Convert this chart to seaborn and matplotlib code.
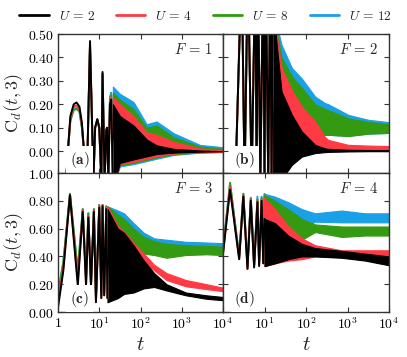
import numpy as np
import pandas as pd
import matplotlib
matplotlib.use("Agg")
import matplotlib.pyplot as plt
import seaborn as sns
from matplotlib.ticker import NullLocator

sns.set_theme(style="white")
plt.rcParams['font.family'] = ['DejaVu Serif']
plt.rcParams['mathtext.fontset'] = 'cm'

# ---------------- data ----------------
U_values = [2, 4, 8, 12]
U_labels = ['$U\\,=\\,2$', '$U\\,=\\,4$', '$U\\,=\\,8$', '$U\\,=\\,12$']
U_colors = {2: '#000000', 4: '#ff3a44', 8: '#339a12', 12: '#1aa0e6'}
panel_F = ['$F\\,=\\,1$', '$F\\,=\\,2$', '$F\\,=\\,3$', '$F\\,=\\,4$']
panel_tags = [r'$\mathbf{(a)}$', r'$\mathbf{(b)}$', r'$\mathbf{(c)}$', r'$\mathbf{(d)}$']

# early oscillations: log10(t) and values
a_early_logt = [0.20, 0.24, 0.30, 0.38, 0.45, 0.52, 0.58, 0.63, 0.70, 0.776, 0.86, 0.90, 0.953, 1.00, 1.05, 1.08, 1.13, 1.17, 1.19, 1.22, 1.26, 1.29, 1.33]
a_early = {
    2:  [-0.12, 0.0, 0.15, 0.20, 0.208, 0.19, 0.12, 0.0, -0.12, 0.47, -0.12, 0.10, 0.137, 0.10, -0.12, 0.338, -0.12, 0.09, 0.10, -0.12, 0.20, 0.22, -0.12],
    4:  [-0.12, 0.0, 0.14, 0.19, 0.195, 0.18, 0.11, 0.0, -0.12, 0.46, -0.12, 0.10, 0.135, 0.10, -0.12, 0.33, -0.12, 0.09, 0.10, -0.12, 0.21, 0.23, -0.12],
    8:  [-0.12, 0.0, 0.13, 0.175, 0.18, 0.17, 0.10, 0.0, -0.12, 0.45, -0.12, 0.10, 0.135, 0.10, -0.12, 0.33, -0.12, 0.09, 0.10, -0.12, 0.22, 0.24, -0.12],
    12: [-0.12, 0.0, 0.135, 0.18, 0.185, 0.17, 0.10, 0.0, -0.12, 0.45, -0.12, 0.10, 0.135, 0.10, -0.12, 0.33, -0.12, 0.09, 0.10, -0.12, 0.23, 0.25, -0.12],
}
b_early_logt = [0.30, 0.45, 0.52, 0.60, 0.69, 0.78, 0.81, 0.84, 0.90, 0.97, 1.00, 1.03, 1.09, 1.14, 1.17, 1.21]
b_early = {u: [-0.12, 0.8, -0.12, 0.8, -0.12, 0.8, -0.12, 0.8, -0.12, 0.8, -0.12, 0.8, -0.12, 0.8, -0.12, 0.8] for u in U_values}
c_early_logt = [0.0, 0.13, 0.29, 0.48, 0.60, 0.68, 0.735, 0.80, 0.87, 0.92, 1.00, 1.05, 1.08, 1.12, 1.17, 1.20]
c_early = {
    2:  [0.03, 0.30, 0.84, 0.19, 0.72, 0.19, 0.68, 0.19, 0.72, 0.07, 0.75, 0.10, 0.76, 0.12, 0.74, 0.10],
    4:  [0.07, 0.32, 0.84, 0.22, 0.73, 0.20, 0.69, 0.19, 0.73, 0.08, 0.76, 0.10, 0.77, 0.12, 0.75, 0.10],
    8:  [0.13, 0.36, 0.85, 0.30, 0.74, 0.25, 0.71, 0.20, 0.74, 0.10, 0.77, 0.12, 0.77, 0.14, 0.76, 0.10],
    12: [0.13, 0.36, 0.85, 0.28, 0.74, 0.24, 0.71, 0.20, 0.74, 0.10, 0.77, 0.12, 0.77, 0.14, 0.76, 0.10],
}
d_early_logt = [0.0, 0.17, 0.39, 0.49, 0.59, 0.67, 0.75, 0.83, 0.87, 0.93, 0.97, 1.00]
d_early = {
    2:  [0.42, 0.88, 0.38, 0.83, 0.31, 0.80, 0.32, 0.79, 0.33, 0.80, 0.35, 0.67],
    4:  [0.42, 0.90, 0.38, 0.84, 0.31, 0.81, 0.33, 0.80, 0.34, 0.81, 0.35, 0.82],
    8:  [0.43, 0.93, 0.40, 0.85, 0.33, 0.82, 0.34, 0.81, 0.35, 0.82, 0.36, 0.84],
    12: [0.46, 0.92, 0.40, 0.85, 0.33, 0.82, 0.34, 0.83, 0.35, 0.83, 0.36, 0.85],
}

# late-time envelopes (dense oscillations): log10(t), upper and lower
a_band_logt = [1.33, 1.50, 1.83, 2.15, 2.39, 2.80, 3.44, 4.00]
a_upper = {
    2:  [0.20, 0.15, 0.11, 0.05, 0.025, 0.010, 0.003, 0.000],
    4:  [0.23, 0.20, 0.15, 0.08, 0.070, 0.040, 0.012, 0.005],
    8:  [0.25, 0.22, 0.18, 0.10, 0.110, 0.060, 0.020, 0.010],
    12: [0.276, 0.245, 0.21, 0.115, 0.127, 0.077, 0.027, 0.017],
}
a_lower = {
    2:  [-0.15, -0.05, -0.035, -0.022, -0.012, -0.006, -0.002, 0.000],
    4:  [-0.15, -0.055, -0.045, -0.032, -0.022, -0.010, -0.004, -0.002],
    8:  [-0.15, -0.06, -0.05, -0.037, -0.027, -0.013, -0.005, -0.003],
    12: [-0.15, -0.065, -0.055, -0.042, -0.032, -0.016, -0.006, -0.004],
}
b_band_logt = [1.21, 1.41, 1.66, 1.90, 2.22, 2.46, 2.54, 3.02, 3.50, 4.00]
b_upper = {
    2:  [0.60, 0.255, 0.155, 0.084, 0.027, 0.012, 0.010, 0.006, 0.005, 0.005],
    4:  [0.60, 0.355, 0.26, 0.19, 0.127, 0.060, 0.048, 0.027, 0.024, 0.022],
    8:  [0.60, 0.40, 0.32, 0.27, 0.20, 0.18, 0.175, 0.14, 0.125, 0.115],
    12: [0.60, 0.454, 0.355, 0.31, 0.233, 0.205, 0.20, 0.155, 0.134, 0.124],
}
b_lower = {
    2:  [-0.15, -0.12, -0.058, -0.023, -0.008, -0.004, -0.003, -0.001, 0.0, 0.0],
    4:  [-0.15, -0.11, -0.05, -0.018, -0.004, 0.002, 0.004, 0.006, 0.007, 0.008],
    8:  [-0.15, -0.05, 0.0, 0.04, 0.06, 0.07, 0.07, 0.065, 0.075, 0.078],
    12: [-0.15, -0.05, 0.0, 0.04, 0.06, 0.07, 0.07, 0.065, 0.075, 0.078],
}
c_band_logt = [1.20, 1.45, 1.60, 1.83, 2.08, 2.33, 2.63, 3.10, 3.60, 4.00]
c_upper = {
    2:  [0.74, 0.60, 0.57, 0.48, 0.37, 0.28, 0.20, 0.14, 0.12, 0.108],
    4:  [0.76, 0.62, 0.58, 0.50, 0.42, 0.34, 0.28, 0.23, 0.20, 0.175],
    8:  [0.76, 0.70, 0.67, 0.60, 0.54, 0.51, 0.49, 0.48, 0.475, 0.47],
    12: [0.76, 0.73, 0.71, 0.64, 0.57, 0.53, 0.52, 0.505, 0.50, 0.495],
}
c_lower = {
    2:  [0.07, 0.10, 0.13, 0.14, 0.17, 0.18, 0.155, 0.12, 0.095, 0.085],
    4:  [0.10, 0.15, 0.25, 0.38, 0.36, 0.30, 0.23, 0.185, 0.165, 0.15],
    8:  [0.10, 0.30, 0.40, 0.44, 0.42, 0.41, 0.39, 0.41, 0.415, 0.41],
    12: [0.10, 0.35, 0.42, 0.46, 0.44, 0.43, 0.42, 0.43, 0.43, 0.43],
}
d_band_logt = [1.00, 1.25, 1.57, 1.90, 2.22, 2.86, 3.42, 4.00]
d_upper = {
    2:  [0.67, 0.64, 0.55, 0.49, 0.46, 0.44, 0.42, 0.40],
    4:  [0.82, 0.74, 0.62, 0.53, 0.48, 0.444, 0.444, 0.444],
    8:  [0.84, 0.80, 0.74, 0.67, 0.63, 0.615, 0.615, 0.615],
    12: [0.85, 0.83, 0.79, 0.74, 0.71, 0.73, 0.71, 0.71],
}
d_lower = {
    2:  [0.33, 0.35, 0.38, 0.40, 0.40, 0.39, 0.37, 0.336],
    4:  [0.33, 0.35, 0.37, 0.38, 0.40, 0.395, 0.385, 0.38],
    8:  [0.35, 0.38, 0.45, 0.52, 0.575, 0.54, 0.55, 0.55],
    12: [0.35, 0.40, 0.50, 0.60, 0.65, 0.645, 0.645, 0.645],
}

x_ticks = [1, 10, 100, 1000, 10000]
x_ticklabels_left = ['$1$', '$10^1$', '$10^2$', '$10^3$', '$10^4$']
x_ticklabels_right = ['', '$10^1$', '$10^2$', '$10^3$', '$10^4$']
y_ticks_top = [0.0, 0.1, 0.2, 0.3, 0.4, 0.5]
y_ticks_bottom = [0.0, 0.2, 0.4, 0.6, 0.8, 1.0]

panels = [
    (a_early_logt, a_early, a_band_logt, a_upper, a_lower, (-0.093, 0.5)),
    (b_early_logt, b_early, b_band_logt, b_upper, b_lower, (-0.093, 0.5)),
    (c_early_logt, c_early, c_band_logt, c_upper, c_lower, (0.0, 1.0)),
    (d_early_logt, d_early, d_band_logt, d_upper, d_lower, (0.0, 1.0)),
]

# ---------------- figure ----------------
W, H = 407, 357
fig = plt.figure(figsize=(W / 100, H / 100), dpi=100)
ax_rects = [
    (58, 34, 223, 173), (223, 34, 389, 173),
    (58, 173, 223, 312), (223, 173, 389, 312),
]
axes = []
for (x0, y0, x1, y1) in ax_rects:
    axes.append(fig.add_axes([x0 / W, 1 - y1 / H, (x1 - x0) / W, (y1 - y0) / H]))

spine_col = '#333333'
for i, ax in enumerate(axes):
    elogt, early, blogt, up, lo, ylim = panels[i]
    for u in [12, 8, 4, 2]:
        col = U_colors[u]
        df = pd.DataFrame({'t': 10 ** np.array(elogt), 'C': early[u]})
        sns.lineplot(data=df, x='t', y='C', ax=ax, color=col, lw=1.4,
                     sort=False, estimator=None, legend=False)
        tb = 10 ** np.array(blogt)
        ax.fill_between(tb, lo[u], up[u], color=col, lw=0.8, edgecolor=col)
    ax.set_xscale('log')
    ax.set_xlim(1, 1e4)
    ax.set_ylim(*ylim)
    ax.xaxis.set_minor_locator(NullLocator())
    ax.set_xticks(x_ticks)
    ax.set_xlabel('')
    ax.set_ylabel('')
    ax.tick_params(direction='in', length=3.5, width=0.8, top=True, right=True,
                   bottom=True, left=True, colors=spine_col, labelcolor='black',
                   labelsize=10, pad=3)
    for s in ax.spines.values():
        s.set_color(spine_col)
        s.set_linewidth(1.0)
    ax.grid(False)
    if i < 2:
        ax.set_yticks(y_ticks_top)
        ax.set_xticklabels([])
    else:
        ax.set_yticks(y_ticks_bottom)
        ax.set_xticklabels(x_ticklabels_left if i == 2 else x_ticklabels_right)
        ax.set_xlabel('$t$', fontsize=15, labelpad=2)
    if i % 2 == 0:
        ax.set_yticklabels(['$%.2f$' % v for v in ax.get_yticks()])
        ax.set_ylabel(r'$\mathrm{C}_d(t,3)$', fontsize=13, labelpad=2)
    else:
        ax.set_yticklabels([])
    ax.text(0.935, 0.885, panel_F[i], transform=ax.transAxes, ha='right',
            va='center', fontsize=10.5, zorder=10,
            bbox=dict(facecolor='white', edgecolor='none', pad=1.5))
    ax.text(0.13, 0.095, panel_tags[i], transform=ax.transAxes, ha='center',
            va='center', fontsize=11, zorder=10,
            bbox=dict(facecolor='white', edgecolor='none', pad=2.5))

handles = [plt.Line2D([], [], color=U_colors[u], lw=2) for u in U_values]
fig.legend(handles, U_labels, loc='center', bbox_to_anchor=(0.505, 1 - 16 / H),
           ncol=4, frameon=False, fontsize=9.6, handlelength=2.2,
           columnspacing=1.6, handletextpad=0.75)

fig.savefig('out.png', dpi=100)
